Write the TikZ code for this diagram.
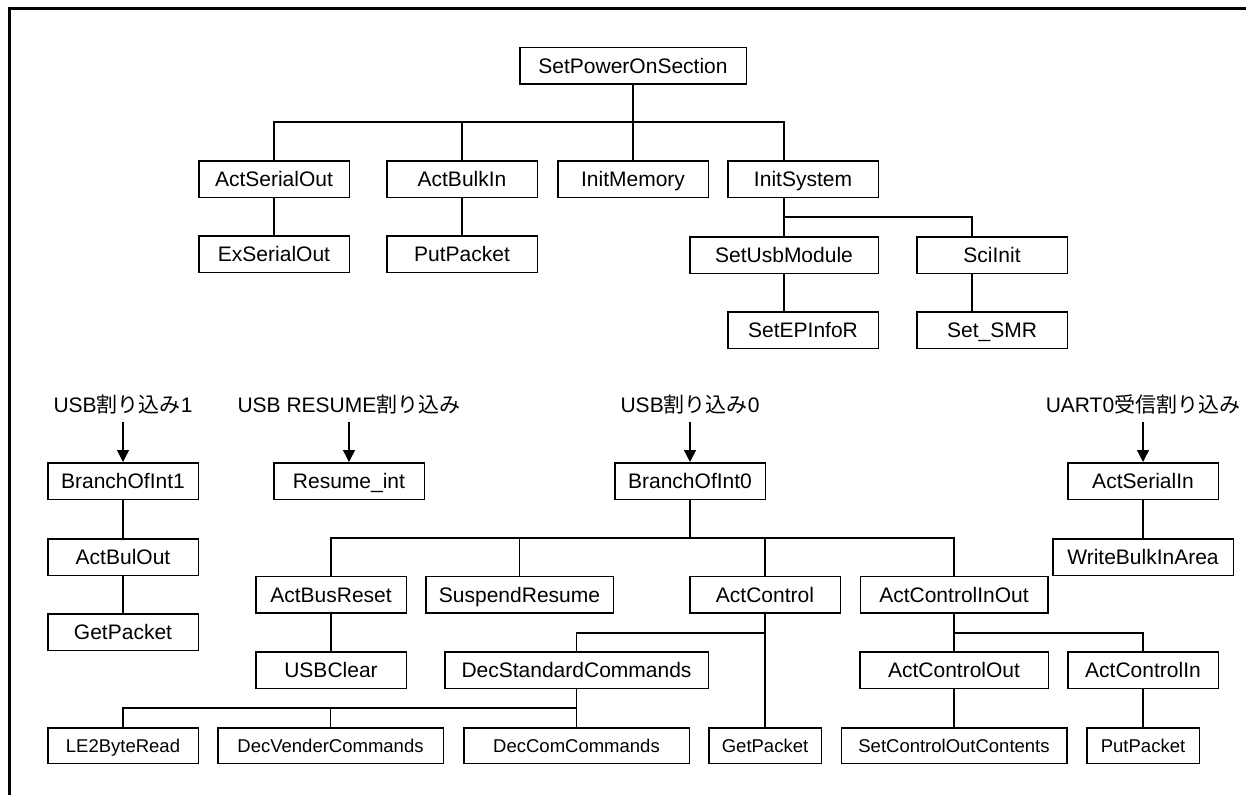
\documentclass[tikz,border=0pt]{standalone}
\usepackage{fontspec}
\setmainfont{Liberation Sans}
\newfontfamily\jpfont{Noto Sans CJK JP}
\usetikzlibrary{arrows.meta}

\begin{document}
\begin{tikzpicture}[x=1pt,y=-1pt,
  box/.style={draw, line width=1.5pt, minimum height=36.5pt, inner sep=0pt,
    font=\fontsize{21}{21}\selectfont, text height=15pt, text depth=0pt},
  smallbox/.style={box, minimum height=35.5pt,
    font=\fontsize{18.5}{18.5}\selectfont, text height=13.3pt},
  wire/.style={line width=1.3pt},
  arr/.style={line width=1.3pt, -{Triangle[width=12pt,length=12pt]}, shorten <=8pt},
  lbl/.style={anchor=base, inner sep=0pt, font=\fontsize{21}{21}\selectfont},
]
\useasboundingbox (0,0) rectangle (1246,795);

% outer frame (top and left edges)
\coordinate (frameBL) at (9,795);
\coordinate (frameTL) at (9,8.5);
\coordinate (frameTR) at (1246,8.5);
\draw[line width=3pt] (frameBL) -- (frameTL) -- (frameTR);

% ---------- power-on tree ----------
\node[box, minimum width=226.5pt] (spo)  at (633,65.5) {SetPowerOnSection};
\node[box, minimum width=150.5pt] (aso)  at (274,179)  {ActSerialOut};
\node[box, minimum width=150.5pt] (abi)  at (462,179)  {ActBulkIn};
\node[box, minimum width=150.5pt] (imem) at (633,179)  {InitMemory};
\node[box, minimum width=150.5pt] (isys) at (803,179)  {InitSystem};
\node[box, minimum width=150.5pt] (exso) at (274,254)  {ExSerialOut};
\node[box, minimum width=150.5pt] (pp1)  at (462,254)  {PutPacket};
\node[box, minimum width=188.5pt] (usbm) at (784,255)  {SetUsbModule};
\node[box, minimum width=150.5pt] (sci)  at (992,255)  {SciInit};
\node[box, minimum width=150.5pt] (sepi) at (803,330)  {SetEPInfoR};
\node[box, minimum width=150.5pt] (smr)  at (992,330)  {Set\_SMR};

\coordinate (bus1) at (633,122);
\draw[wire] (spo.south) -- (bus1);
\draw[wire] (aso.north) |- (bus1) -| (isys.north -| usbm.north);
\draw[wire] (abi.north) -- (abi.north |- bus1);
\draw[wire] (imem.north) -- (bus1);
\draw[wire] (aso) -- (exso);
\draw[wire] (abi) -- (pp1);

\coordinate (bus2) at (784,217);
\draw[wire] (isys.south -| usbm.north) -- (usbm.north);
\draw[wire] (bus2) -| ([xshift=-20pt]sci.north);
\draw[wire] (usbm.south) -- (usbm.south |- sepi.north);
\draw[wire] ([xshift=-20pt]sci.south) -- ([xshift=-20pt]smr.north);

% ---------- interrupt entries ----------
\node[lbl] (l1) at (123,412)  {USB{\jpfont 割り込み}1};
\node[lbl] (l2) at (349,412)  {USB RESUME{\jpfont 割り込み}};
\node[lbl] (l3) at (690,412)  {USB{\jpfont 割り込み}0};
\node[lbl] (l4) at (1143,412) {UART0{\jpfont 受信割り込み}};

\node[box, minimum width=150.5pt] (bi1)  at (123,481)  {BranchOfInt1};
\node[box, minimum width=150.5pt] (abo)  at (123,557)  {ActBulOut};
\node[box, minimum width=150.5pt] (gp1)  at (123,632)  {GetPacket};
\node[box, minimum width=150.5pt] (rint) at (349,481)  {Resume\_int};
\node[box, minimum width=150.5pt] (bi0)  at (690,481)  {BranchOfInt0};
\node[box, minimum width=150.5pt] (asi)  at (1143,481) {ActSerialIn};
\node[box, minimum width=180.5pt] (wbia) at (1143,557) {WriteBulkInArea};

\draw[arr] (l1.south) -- (bi1.north);
\draw[arr] (l2.south) -- (rint.north);
\draw[arr] (l3.south) -- (bi0.north);
\draw[arr] (l4.south) -- (asi.north);
\draw[wire] (bi1) -- (abo);
\draw[wire] (abo) -- (gp1);
\draw[wire] (asi) -- (wbia);

% ---------- BranchOfInt0 subtree ----------
\node[box, minimum width=150.5pt] (abr)  at (331,594.5)   {ActBusReset};
\node[box, minimum width=187.5pt] (susp) at (519.5,594.5) {SuspendResume};
\node[box, minimum width=150.5pt] (actc) at (765,594.5)   {ActControl};
\node[box, minimum width=187.5pt] (acio) at (954,594.5)   {ActControlInOut};
\node[box, minimum width=150.5pt] (usbc) at (331,670)     {USBClear};
\node[box, minimum width=263.5pt] (dsc)  at (576.5,670)   {DecStandardCommands};
\node[box, minimum width=188.5pt] (aco)  at (954,670)     {ActControlOut};
\node[box, minimum width=150.5pt] (aci)  at (1143,670)    {ActControlIn};

\node[smallbox, minimum width=150.5pt] (le2)  at (123,745.5)   {LE2ByteRead};
\node[smallbox, minimum width=225.5pt] (dvc)  at (330.5,745.5) {DecVenderCommands};
\node[smallbox, minimum width=225.5pt] (dcc)  at (576.5,745.5) {DecComCommands};
\node[smallbox, minimum width=112.5pt] (gp2)  at (765,745.5)   {GetPacket};
\node[smallbox, minimum width=225.5pt] (scoc) at (954,745.5)   {SetControlOutContents};
\node[smallbox, minimum width=112.5pt] (pp2)  at (1143,745.5)  {PutPacket};

\coordinate (bus3) at (690,538);
\draw[wire] (bi0.south) -- (bus3);
\draw[wire] (abr.north) |- (bus3) -| (acio.north);
\draw[wire] (susp.north) -- (susp.north |- bus3);
\draw[wire] (actc.north) -- (actc.north |- bus3);
\draw[wire] (abr) -- (usbc);

\coordinate (bus4) at (765,633);
\draw[wire] (actc) -- (gp2);
\draw[wire] (bus4) -| (dsc.north);

\coordinate (bus5) at (576.5,708);
\draw[wire] (dsc) -- (dcc);
\draw[wire] (bus5) -| (le2.north);
\draw[wire] (dvc.north) -- (dvc.north |- bus5);

\coordinate (bus6) at (954,633);
\draw[wire] (acio) -- (aco);
\draw[wire] (bus6) -| (aci.north);
\draw[wire] (aco) -- (scoc);
\draw[wire] (aci) -- (pp2);
\end{tikzpicture}
\end{document}
